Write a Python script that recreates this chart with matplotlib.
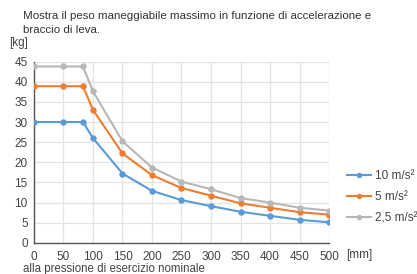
import matplotlib.pyplot as plt

plt.rcParams["font.family"] = ["Liberation Sans", "DejaVu Sans"]

# Data
x = [0, 50, 83, 100, 150, 200, 250, 300, 350, 400, 450, 500]
acc10 = [30, 30, 30, 26, 17.2, 12.9, 10.6, 9.1, 7.7, 6.7, 5.7, 5.1]
acc5 = [38.9, 38.9, 38.9, 33, 22.2, 16.8, 13.6, 11.7, 9.8, 8.7, 7.6, 7.0]
acc25 = [43.8, 43.8, 43.8, 37.6, 25.2, 18.7, 15.2, 13.3, 11.1, 10.0, 8.7, 8.0]
labels = ["10 m/s²", "5 m/s²", "2,5 m/s²"]
colors = ["#5B9BD5", "#ED7D31", "#B7B7B7"]

xticks = list(range(0, 501, 50))
yticks = list(range(0, 46, 5))

fig = plt.figure(figsize=(4.17, 2.74), dpi=100)
ax = fig.add_axes([0.0815, 0.114, 0.7075, 0.661])

for ys, lab, col in zip([acc10, acc5, acc25], labels, colors):
    ax.plot(x, ys, color=col, lw=1.5, marker="o", ms=3.6, label=lab, zorder=3)

ax.set_xlim(0, 500)
ax.set_ylim(0, 45)
ax.set_xticks(xticks)
ax.set_yticks(yticks)
ax.grid(color="#E3E3E3", lw=0.9)
ax.set_axisbelow(True)
ax.tick_params(axis="both", length=0, labelsize=8.5, colors="#444444")
ax.tick_params(axis="x", pad=6)
ax.tick_params(axis="y", pad=4.5)
for s in ["top", "right"]:
    ax.spines[s].set_visible(False)
for s in ["left", "bottom"]:
    ax.spines[s].set_color("#555555")
    ax.spines[s].set_linewidth(1.0)

fig.text(23 / 417, 1 - 23 / 274, "Mostra il peso maneggiabile massimo in funzione di accelerazione e\nbraccio di leva.",
         fontsize=8.25, color="#333333", va="center", linespacing=1.5)
fig.text(9 / 417, 1 - 43 / 274, "[kg]", fontsize=8.5, color="#444444", va="center")
fig.text(346 / 417, 1 - 255 / 274, "[mm]", fontsize=8.5, color="#444444", va="center")
fig.text(23 / 417, 1 - 269 / 274, "alla pressione di esercizio nominale", fontsize=8.3,
         color="#444444", va="center")

fig.legend(loc="center left", bbox_to_anchor=(347 / 417, 1 - 197 / 274), frameon=False,
           fontsize=8.5, handlelength=2.0, handletextpad=0.35, labelspacing=0.78,
           labelcolor="#444444", borderaxespad=0, borderpad=0, markerscale=0.8)

fig.savefig("out.png", dpi=100)
